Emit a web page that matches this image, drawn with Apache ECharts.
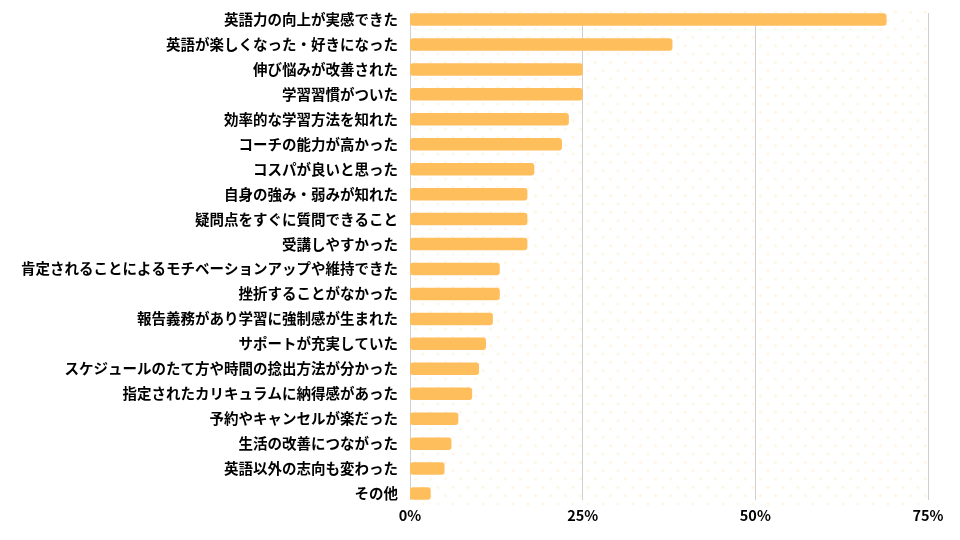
<!DOCTYPE html>
<html>
<head>
<meta charset="utf-8">
<script src="https://cdn.jsdelivr.net/npm/echarts@6/dist/echarts.min.js"></script>
<style>
html,body{margin:0;padding:0;background:#fff;}
#chart{width:960px;height:540px;}
</style>
</head>
<body>
<div id="chart"></div>
<script>
const categories = [
  '英語力の向上が実感できた',
  '英語が楽しくなった・好きになった',
  '伸び悩みが改善された',
  '学習習慣がついた',
  '効率的な学習方法を知れた',
  'コーチの能力が高かった',
  'コスパが良いと思った',
  '自身の強み・弱みが知れた',
  '疑問点をすぐに質問できること',
  '受講しやすかった',
  '肯定されることによるモチベーションアップや維持できた',
  '挫折することがなかった',
  '報告義務があり学習に強制感が生まれた',
  'サポートが充実していた',
  'スケジュールのたて方や時間の捻出方法が分かった',
  '指定されたカリキュラムに納得感があった',
  '予約やキャンセルが楽だった',
  '生活の改善につながった',
  '英語以外の志向も変わった',
  'その他'
];
const values = [69, 38, 25, 25, 23, 22, 18, 17, 17, 17, 13, 13, 12, 11, 10, 9, 7, 6, 5, 3];
const xTicks = [0, 25, 50, 75];

// faint staggered dot pattern for plot background
const tile = document.createElement('canvas');
tile.width = 30; tile.height = 50;
const tctx = tile.getContext('2d');
tctx.fillStyle = '#FFF6E8';
for (let k = 0; k < 6; k++) {
  const y = 4 + k * 50 / 6;
  for (let c = -1; c < 3; c++) {
    const x = c * 15 + (k % 2 ? 7.5 : 0) + 3;
    tctx.beginPath();
    tctx.arc(x, y, 1.6, 0, Math.PI * 2);
    tctx.fill();
  }
}

const chart = echarts.init(document.getElementById('chart'), null, {renderer: 'canvas'});
const fontFam = '"Noto Sans CJK JP", "Noto Sans", sans-serif';
chart.setOption({
  animation: false,
  backgroundColor: '#fff',
  grid: [
    {left: 410, right: 32, top: 7, height: 499, show: true, borderWidth: 0,
     backgroundColor: {image: tile, repeat: 'repeat'}},
    {left: 410, right: 32, top: 13, height: 487, show: false}
  ],
  xAxis: [
    {gridIndex: 0, type: 'value', min: 0, max: 75, interval: 25,
     axisLine: {show: false}, axisTick: {show: false}, axisLabel: {show: false}, splitLine: {show: false}},
    {gridIndex: 1, type: 'value', min: 0, max: 75, interval: 25,
     axisLine: {show: false}, axisTick: {show: false},
     splitLine: {show: true, lineStyle: {color: '#cfcfcf', width: 1}},
     axisLabel: {
       margin: 8, color: '#000', fontWeight: 'bold', fontSize: 14.5, fontFamily: fontFam,
       formatter: v => xTicks.includes(v) ? v + '%' : ''
     }}
  ],
  yAxis: [
    {gridIndex: 0, type: 'category', data: categories, inverse: true,
     axisLine: {show: false}, axisTick: {show: false},
     axisLabel: {margin: 12, color: '#000', fontWeight: 'bold', fontSize: 14.5, fontFamily: fontFam}},
    {gridIndex: 1, type: 'category', data: categories, inverse: true, show: false}
  ],
  series: [{
    type: 'bar',
    xAxisIndex: 0, yAxisIndex: 0,
    data: values,
    barWidth: 12.5,
    itemStyle: {color: '#FFBE5C', borderRadius: 3},
    z: 5
  }]
});
</script>
</body>
</html>
